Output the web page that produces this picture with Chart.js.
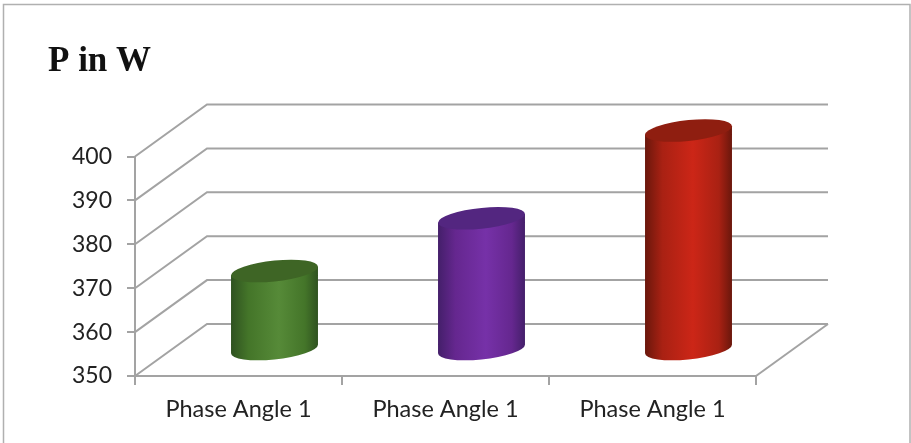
<!DOCTYPE html>
<html>
<head>
<meta charset="utf-8">
<title>P in W</title>
<script src="https://cdn.jsdelivr.net/npm/chart.js@4"></script>
<style>
  html, body { margin: 0; background: #fff; }
  canvas { display: block; }
</style>
</head>
<body>
<canvas id="powerChart" width="911" height="443"></canvas>
<script>
// Chart data
const categories = ['Phase Angle 1', 'Phase Angle 1', 'Phase Angle 1'];
const powerValues = [368, 380, 400];
const yTicks = [350, 360, 370, 380, 390, 400];

// Cylinder colours: edge, shoulder, middle, top cap
const edgeColors = ['#2f5220', '#441f6a', '#6a170c'];
const shoulderColors = ['#447529', '#65278f', '#a92113'];
const midColors = ['#568a38', '#7631a8', '#cc2617'];
const capColors = ['#3e6525', '#532680', '#8f1e10'];

const GRID_COLOR = '#a3a3a3';
const TEXT_COLOR = '#222222';
const LABEL_FONT = 'Lato, sans-serif';

// Oblique depth of the 3D box
const DEPTH_X = 72;
const DEPTH_Y = -52;

// Draws one cylinder halfway into the box
function drawCylinder(ctx, bar, i) {
  const cx = bar.x + DEPTH_X / 2;
  const topY = bar.y + DEPTH_Y / 2;
  const baseY = bar.base + DEPTH_Y / 2;
  const rx = bar.width / 2;
  const ry = 10.4;
  const skew = 0.1;

  const gradient = ctx.createLinearGradient(cx - rx, 0, cx + rx, 0);
  gradient.addColorStop(0, edgeColors[i]);
  gradient.addColorStop(0.2, shoulderColors[i]);
  gradient.addColorStop(0.55, midColors[i]);
  gradient.addColorStop(0.85, shoulderColors[i]);
  gradient.addColorStop(1, edgeColors[i]);

  ctx.save();
  // body: top edge, right side, lower half of the base, left side
  ctx.beginPath();
  ctx.moveTo(cx - rx, topY + skew * rx);
  ctx.lineTo(cx + rx, topY - skew * rx);
  ctx.lineTo(cx + rx, baseY - skew * rx);
  ctx.save();
  ctx.transform(1, -skew, 0, 1, cx, baseY);
  ctx.ellipse(0, 0, rx, ry, 0, 0, Math.PI);
  ctx.restore();
  ctx.closePath();
  ctx.fillStyle = gradient;
  ctx.fill();

  // cap
  ctx.transform(1, -skew, 0, 1, cx, topY);
  ctx.beginPath();
  ctx.ellipse(0, 0, rx, ry, 0, 0, Math.PI * 2);
  ctx.fillStyle = capColors[i];
  ctx.fill();
  ctx.restore();
}

// Bar controller that paints cylinders instead of flat rectangles
class CylinderController extends Chart.BarController {
  static id = 'cylinder';
  static defaults = Chart.BarController.defaults;

  draw() {
    const ctx = this.chart.ctx;
    this.getMeta().data.forEach((bar, i) => drawCylinder(ctx, bar, i));
  }
}
Chart.register(CylinderController);

// Back wall, side wall and floor lines of the box
const boxWalls = {
  id: 'boxWalls',
  beforeDatasetsDraw(chart) {
    const { ctx, chartArea, scales } = chart;
    const left = chartArea.left;
    const right = chartArea.right;

    ctx.save();
    ctx.strokeStyle = GRID_COLOR;
    ctx.lineWidth = 2;
    yTicks.forEach(v => {
      const y = scales.y.getPixelForValue(v);
      ctx.beginPath();
      ctx.moveTo(left, y);
      ctx.lineTo(left + DEPTH_X, y + DEPTH_Y);
      ctx.lineTo(right + DEPTH_X, y + DEPTH_Y);
      ctx.stroke();
    });
    // right edge of the floor
    const floorY = scales.y.getPixelForValue(yTicks[0]);
    ctx.beginPath();
    ctx.moveTo(right, floorY);
    ctx.lineTo(right + DEPTH_X, floorY + DEPTH_Y);
    ctx.stroke();
    ctx.restore();
  },
};

// Thin frame round the chart
const outerFrame = {
  id: 'outerFrame',
  beforeDraw(chart) {
    const { ctx } = chart;
    ctx.save();
    ctx.strokeStyle = '#b0b0b0';
    ctx.lineWidth = 1.5;
    ctx.beginPath();
    ctx.moveTo(3.5, 443);
    ctx.lineTo(3.5, 4.5);
    ctx.lineTo(910, 4.5);
    ctx.lineTo(910, 443);
    ctx.stroke();
    ctx.restore();
  },
};

new Chart(document.getElementById('powerChart'), {
  type: 'cylinder',
  data: {
    labels: categories,
    datasets: [{
      data: powerValues,
      base: yTicks[0],
      clip: false,
      barPercentage: 0.42,
      categoryPercentage: 1,
      backgroundColor: midColors,
    }],
  },
  plugins: [outerFrame, boxWalls],
  options: {
    responsive: false,
    animation: false,
    devicePixelRatio: 1,
    layout: { padding: { left: 48, right: 155, top: 41, bottom: 0 } },
    plugins: {
      legend: { display: false },
      tooltip: { enabled: false },
      title: {
        display: true,
        text: 'P in W',
        align: 'start',
        color: '#111111',
        font: { family: '"Liberation Serif", serif', size: 35, weight: 'bold', lineHeight: 1.2 },
        padding: { top: 0, bottom: 73.5 },
      },
    },
    scales: {
      x: {
        afterFit(scale) { scale.height = 67; },
        border: { color: GRID_COLOR, width: 2 },
        grid: { drawOnChartArea: false, color: GRID_COLOR, lineWidth: 2, tickLength: 9 },
        ticks: { color: TEXT_COLOR, font: { family: LABEL_FONT, size: 23.5 }, padding: 10, maxRotation: 0 },
      },
      y: {
        min: 350,
        max: 400,
        afterFit(scale) { scale.width = 87; },
        afterBuildTicks(scale) { scale.ticks = yTicks.map(value => ({ value })); },
        border: { color: GRID_COLOR, width: 2 },
        grid: { drawOnChartArea: false, color: GRID_COLOR, lineWidth: 2, tickLength: 8 },
        ticks: { color: TEXT_COLOR, font: { family: LABEL_FONT, size: 23 }, padding: 15 },
      },
    },
  },
});
</script>
</body>
</html>
